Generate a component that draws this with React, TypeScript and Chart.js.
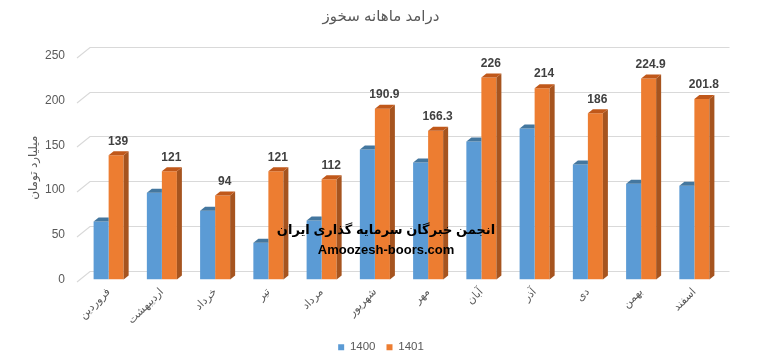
import React, { useEffect, useRef } from 'react';
import { Chart, registerables } from 'chart.js';

Chart.register(...registerables);

const FONT = '"Liberation Sans", "DejaVu Sans", sans-serif';

const months = ['فروردین', 'اردیبهشت', 'خرداد', 'تیر', 'مرداد', 'شهریور', 'مهر', 'آبان', 'آذر', 'دی', 'بهمن', 'اسفند'];
const series1400 = [65, 97, 77, 41, 66, 145.5, 131, 154.5, 169, 128.5, 107, 105];
const series1401 = [139, 121, 94, 121, 112, 190.9, 166.3, 226, 214, 186, 224.9, 201.8];
const yTicks = [0, 50, 100, 150, 200, 250];
const seriesNames = ['1400', '1401'];
const chartTitle = 'درامد ماهانه سخوز';
const yTitle = 'میلیارد تومان';
const watermark1 = 'انجمن خبرگان سرمایه گذاری ایران';
const watermark2 = 'Amoozesh-boors.com';

const DX = 5;
const DY = 4;

const faceColors = [
  { front: '#5b9bd5', top: '#44779f', side: '#41719c' },
  { front: '#ed7d31', top: '#c0581a', side: '#a6541f' },
];

const plugin3d = {
  id: 'plugin3d',
  beforeDatasetsDraw(chart: any) {
    const { ctx, chartArea } = chart;
    const y = chart.scales.y;
    ctx.save();
    ctx.strokeStyle = '#d9d9d9';
    ctx.lineWidth = 1.2;
    for (const v of yTicks) {
      const py = Math.round(y.getPixelForValue(v));
      ctx.beginPath();
      ctx.moveTo(chartArea.left - 5, py + 2);
      ctx.lineTo(chartArea.left + 8, py - 8.5);
      ctx.lineTo(chartArea.right + 8.5, py - 8.5);
      ctx.stroke();
    }
    ctx.restore();
  },
  afterDatasetsDraw(chart: any) {
    const { ctx } = chart;
    ctx.save();
    [0, 1].forEach((di) => {
      const cols = faceColors[di];
      chart.getDatasetMeta(di).data.forEach((el: any) => {
        const { x, y, base, width } = el.getProps(['x', 'y', 'base', 'width'], true);
        const x0 = x - width / 2;
        const x1 = x + width / 2;
        const hidden = di === 0; // right part of the blue bar is behind the orange one
        if (!hidden) {
          ctx.fillStyle = cols.side;
          ctx.beginPath();
          ctx.moveTo(x1, y);
          ctx.lineTo(x1 + DX, y - DY);
          ctx.lineTo(x1 + DX, base - DY);
          ctx.lineTo(x1, base);
          ctx.closePath();
          ctx.fill();
        }
        ctx.fillStyle = cols.top;
        ctx.beginPath();
        ctx.moveTo(x0, y);
        ctx.lineTo(x0 + DX, y - DY);
        ctx.lineTo(hidden ? x1 : x1 + DX, y - DY);
        ctx.lineTo(x1, y);
        ctx.closePath();
        ctx.fill();
      });
    });
    const meta = chart.getDatasetMeta(1);
    ctx.fillStyle = '#404040';
    ctx.font = 'bold 12px ' + FONT;
    ctx.textAlign = 'center';
    ctx.textBaseline = 'middle';
    meta.data.forEach((el: any, i: number) => {
      const { x, y } = el.getProps(['x', 'y'], true);
      ctx.fillText(String(series1401[i]), x + 2, y - 14);
    });
    ctx.restore();
  },
  afterDraw(chart: any) {
    const { ctx } = chart;
    ctx.save();
    ctx.fillStyle = '#000000';
    ctx.textAlign = 'center';
    ctx.textBaseline = 'middle';
    ctx.font = 'bold 13px ' + FONT;
    ctx.fillText(watermark1, 386, 230);
    ctx.font = 'bold 13px ' + FONT;
    ctx.fillText(watermark2, 386, 250);
    ctx.restore();
  },
};

export default function App() {
  const ref = useRef<HTMLCanvasElement>(null);
  useEffect(() => {
    document.body.style.margin = '0';
    const chart = new Chart(ref.current as HTMLCanvasElement, {
      type: 'bar',
      data: {
        labels: months,
        datasets: [
          {
            label: seriesNames[0],
            data: series1400,
            backgroundColor: faceColors[0].front,
            categoryPercentage: 0.564,
            barPercentage: 1,
          },
          {
            label: seriesNames[1],
            data: series1401,
            backgroundColor: faceColors[1].front,
            categoryPercentage: 0.564,
            barPercentage: 1,
          },
        ],
      },
      options: {
        animation: false,
        responsive: false,
        devicePixelRatio: 1,
        layout: { padding: 0 },
        plugins: {
          title: {
            display: true,
            text: chartTitle,
            color: '#595959',
            font: { size: 15, family: FONT, weight: 'normal' },
            padding: { top: 8, bottom: 30 },
          },
          legend: {
            position: 'bottom',
            labels: {
              boxWidth: 6,
              boxHeight: 6,
              color: '#595959',
              font: { size: 11.5, family: FONT },
              padding: 11,
            },
          },
          tooltip: { enabled: false },
        },
        scales: {
          x: {
            grid: { display: false, drawTicks: false },
            border: { display: false },
            ticks: {
              autoSkip: false,
              minRotation: 45,
              maxRotation: 45,
              padding: 6,
              color: '#595959',
              font: { size: 11, family: FONT },
            },
            afterFit(s: any) {
              s.height = 51;
            },
          },
          y: {
            min: 0,
            max: 250,
            grid: { display: false, drawTicks: false },
            border: { display: false },
            ticks: {
              stepSize: 50,
              padding: 17,
              color: '#595959',
              font: { size: 12, family: FONT },
            },
            title: {
              display: true,
              text: yTitle,
              color: '#595959',
              font: { size: 12, family: FONT },
              padding: { top: 26, bottom: 0 },
            },
            afterFit(s: any) {
              s.width = 82;
            },
          },
          yRight: {
            position: 'right',
            min: 0,
            max: 250,
            grid: { display: false, drawTicks: false },
            border: { display: false },
            ticks: { display: false },
            afterFit(s: any) {
              s.width = 41;
            },
          },
        },
      },
      plugins: [plugin3d],
    } as any);
    return () => chart.destroy();
  }, []);
  return (
    <div style={{ width: 762, height: 363 }}>
      <canvas ref={ref} width={762} height={363} />
    </div>
  );
}
